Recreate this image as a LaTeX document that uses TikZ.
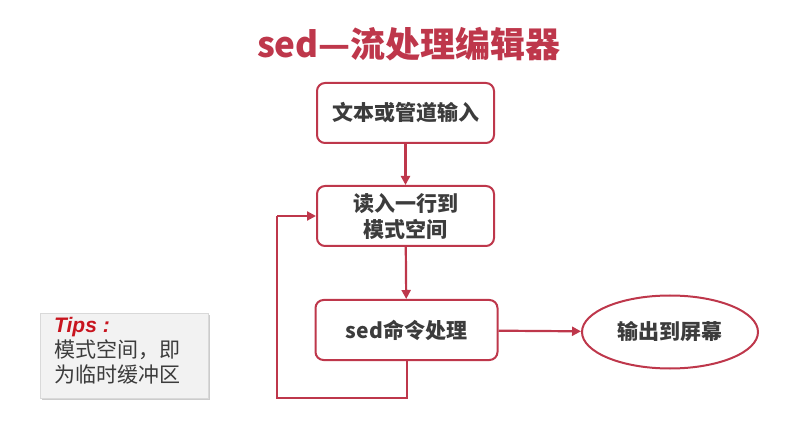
\documentclass[tikz,border=0pt]{standalone}
\usepackage{fontspec}
\setmainfont{Noto Sans CJK SC}
\newfontfamily\tipsfont{Liberation Sans}
\usetikzlibrary{arrows.meta,shapes.geometric,shadows}
\definecolor{sedred}{RGB}{190,55,75}
\definecolor{tipred}{RGB}{200,20,30}
\definecolor{txtgray}{RGB}{60,60,60}
\definecolor{tipgray}{RGB}{242,242,242}
\tikzset{
  flowbox/.style={draw=sedred,line width=2pt,rounded corners=8pt,fill=white,
    minimum width=177pt,minimum height=60pt,align=center,
    font=\fontsize{21}{26}\selectfont\bfseries,text=txtgray},
  outell/.style={ellipse,draw=sedred,line width=2pt,fill=white,
    minimum width=176pt,minimum height=73pt,
    font=\fontsize{21}{26}\selectfont\bfseries,text=txtgray},
  conn/.style={draw=sedred,line width=2.2pt,-{Triangle[length=9pt,width=9pt]}},
  loopline/.style={draw=sedred,line width=2.2pt}
}
\begin{document}
\begin{tikzpicture}[x=1pt,y=-1pt]
\useasboundingbox (0,0) rectangle (809,422);
\node[text=sedred,font=\fontsize{35}{40}\selectfont\bfseries] (title) at (409,44) {sed—流处理编辑器};
\node[flowbox] (b1) at (405.5,113) {文本或管道输入};
\node[flowbox] (b2) at (405.5,216) {读入一行到\\模式空间};
\node[flowbox,minimum width=182pt] (b3) at (406.5,330) {sed命令处理};
\node[outell] (out) at (670,332) {输出到屏幕};
\draw[conn] (b1) -- (b2);
\draw[conn] (b2) -- (b3);
\draw[conn] (b3) -- (out);
\coordinate (c1) at (407,398);
\coordinate (c2) at (277,398);
\coordinate (c3) at (277,216);
\draw[loopline] (b3.south -| c1) -- (c1) -- (c2) -- (c3);
\draw[conn] (c3) -- (b2.west);
\node[draw=black!15,fill=tipgray,drop shadow={shadow xshift=2pt,shadow yshift=-2pt,opacity=0.4},
  minimum width=168pt,minimum height=85pt,anchor=north west,
  inner sep=0pt] (tips) at (40,313) {};
\node[anchor=north west,align=left,text=txtgray,font=\fontsize{21}{25}\selectfont,inner sep=0pt] (tipstext) at (54,317)
  {{\tipsfont\color{tipred}\bfseries\itshape Tips :}\\模式空间，即\\为临时缓冲区};
\end{tikzpicture}
\end{document}
